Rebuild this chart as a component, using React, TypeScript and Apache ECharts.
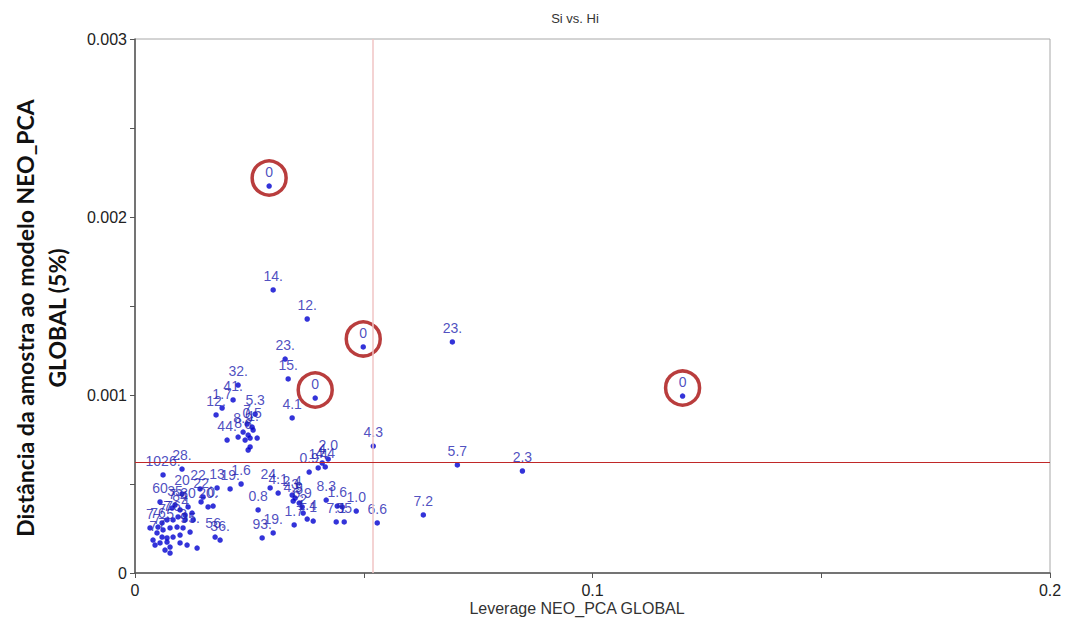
import React, { useEffect, useRef } from "react";
import * as echarts from "echarts";

// Leverage (x), sample distance (y) and point labels
const leverage = [
  0.02932, 0.0302, 0.03764, 0.04989, 0.06937, 0.03282, 0.03348, 0.03939, 0.11969, 0.07046,
  0.08468, 0.06302, 0.05208, 0.03435, 0.02254, 0.02144, 0.01904, 0.01772, 0.02626, 0.02013,
  0.02254, 0.02451, 0.0256, 0.02363, 0.02473, 0.02582, 0.02516, 0.02516, 0.02473, 0.0267,
  0.02407, 0.04223, 0.04158, 0.04004, 0.04092, 0.03807, 0.01028, 0.00613, 0.00547, 0.01028,
  0.01422, 0.01488, 0.00875, 0.0116, 0.01597, 0.01707, 0.01794, 0.02079, 0.02319, 0.02954,
  0.03129, 0.03435, 0.03501, 0.03457, 0.03589, 0.03654, 0.03676, 0.04179, 0.0442, 0.0453,
  0.04836, 0.04398, 0.04573, 0.05295, 0.03764, 0.03895, 0.03479, 0.02691, 0.02779, 0.0302,
  0.01751, 0.0186, 0.01444,
  0.0081, 0.00985, 0.01094, 0.00941, 0.00832, 0.007, 0.00591, 0.00503, 0.00613, 0.00766,
  0.00919, 0.0105, 0.01204, 0.00985, 0.00832, 0.007, 0.00591, 0.00481, 0.00438, 0.00547,
  0.007, 0.00766, 0.00656, 0.00766, 0.00985, 0.01138, 0.01357, 0.01094, 0.01269, 0.01247,
  0.00328, 0.00394,
];
const distance = [
  0.002174, 0.00159, 0.001427, 0.00127, 0.001298, 0.001202, 0.00109, 0.000983, 0.000994, 0.000607,
  0.000573, 0.000326, 0.000713, 0.000871, 0.001056, 0.000972, 0.000927, 0.000888, 0.000893, 0.000747,
  0.000764, 0.000837, 0.00082, 0.000792, 0.000775, 0.000803, 0.000758, 0.000708, 0.000691, 0.000758,
  0.000747, 0.00064, 0.000596, 0.00059, 0.000618, 0.000567, 0.000584, 0.000551, 0.000399, 0.000444,
  0.000472, 0.000427, 0.000382, 0.000371, 0.000371, 0.000376, 0.000478, 0.000472, 0.0005, 0.000478,
  0.000449, 0.000438, 0.000421, 0.000404, 0.000393, 0.000371, 0.000337, 0.00041, 0.000376, 0.000371,
  0.000348, 0.000287, 0.000287, 0.000281, 0.000303, 0.000292, 0.00027, 0.000354, 0.000197, 0.000225,
  0.000202, 0.000185, 0.000399,
  0.000365, 0.000354, 0.000326, 0.000315, 0.000298, 0.000298, 0.000281, 0.000258, 0.000242, 0.000253,
  0.000258, 0.000253, 0.00023, 0.000213, 0.000202, 0.000197, 0.000202, 0.000225, 0.000157, 0.000169,
  0.000174, 0.000146, 0.000129, 0.000112, 0.000169, 0.000157, 0.00014, 0.000298, 0.000298, 0.000337,
  0.000253, 0.000185,
];
const sampleLabels = [
  "0", "14.", "12.", "0", "23.", "23.", "15.", "0", "0", "5.7",
  "2.3", "7.2", "4.3", "4.1", "32.", "41.", "1.7", "12.", "5.3", "44.",
  "8", "7", "0.5", "8.9", "", "1.", "6.", "", "", "",
  "", "2.0", "4.4", "1.4", "4", "0.9", "28.", "1026:", "60", "20",
  "22.", "22.", "35", "30", "20.", "0.", "13", "19.", "1.6", "24.",
  "4.1", "2.4", "3", "4.9", "5", "6.9", "2", "8.3", "1.6", "",
  "1.0", "7.1", "55", "6.6", "1.4", "1", "1.7", "0.8", "93.", "19.",
  "56.", "36.", "",
  "7", "84", "4", "", "76", "7", "7", "76", "", "5",
  "", "3", "95.", "", "", "", "7", "7", "", "",
  "", "", "", "", "", "", "", "", "", "",
  "7", "7",
];
const leverageLimit = 0.0519;
const distanceLimit = 0.000624;
const xTicks = { min: 0, max: 0.2, interval: 0.1 };
const yTicks = { min: 0, max: 0.003, interval: 0.001 };

const FONT = "'Liberation Sans', Arial, sans-serif";

export default function App() {
  const ref = useRef<HTMLDivElement>(null);
  useEffect(() => {
    if (!ref.current) return;
    const chart = echarts.init(ref.current, undefined, { renderer: "svg" });
    const points = leverage.map((x, i) => [x, distance[i], sampleLabels[i]]);
    const circled = points.filter((p) => p[2] === "0");
    chart.setOption({
      animation: false,
      backgroundColor: "#ffffff",
      grid: {
        left: 135,
        right: 16,
        top: 39,
        bottom: 49,
        show: true,
        borderColor: "#a8a8a8",
        borderWidth: 1,
      },
      xAxis: {
        type: "value",
        ...xTicks,
        axisLine: { show: true, onZero: false, lineStyle: { color: "#555", width: 1.5 } },
        axisTick: { show: true, length: 5, lineStyle: { color: "#555" } },
        minorTick: { show: true, splitNumber: 2, length: 5, lineStyle: { color: "#555" } },
        splitLine: { show: false },
        axisLabel: {
          margin: 9,
          fontSize: 16,
          fontFamily: FONT,
          color: "#222",
          formatter: (v: number) => (v === 0 ? "0" : String(+v.toFixed(1))),
        },
      },
      yAxis: {
        type: "value",
        ...yTicks,
        axisLine: { show: true, onZero: false, lineStyle: { color: "#555", width: 1.5 } },
        axisTick: { show: true, length: 5, lineStyle: { color: "#555" } },
        minorTick: { show: true, splitNumber: 2, length: 5, lineStyle: { color: "#555" } },
        splitLine: { show: false },
        axisLabel: {
          margin: 8,
          fontSize: 16,
          fontFamily: FONT,
          color: "#222",
          formatter: (v: number) => (v === 0 ? "0" : v.toFixed(3)),
        },
      },
      graphic: [
        {
          type: "text",
          x: 575,
          y: 18,
          style: {
            text: "Si vs. Hi",
            fontSize: 13,
            fontFamily: FONT,
            fill: "#333",
            textAlign: "center",
            textVerticalAlign: "middle",
          },
        },
        {
          type: "text",
          x: 577,
          y: 608,
          style: {
            text: "Leverage NEO_PCA GLOBAL",
            fontSize: 16,
            fontFamily: FONT,
            fill: "#333",
            textAlign: "center",
            textVerticalAlign: "middle",
          },
        },
        {
          type: "text",
          x: 41,
          y: 318,
          rotation: Math.PI / 2,
          style: {
            text: "Distância da amostra ao modelo NEO_PCA\nGLOBAL (5%)",
            fontSize: 23,
            fontWeight: "bold",
            fontFamily: "Lato, 'Open Sans', sans-serif",
            fill: "#111",
            lineHeight: 32,
            textAlign: "center",
            textVerticalAlign: "middle",
          },
        },
      ],
      series: [
        {
          type: "scatter",
          data: points,
          symbolSize: 5.5,
          itemStyle: { color: "#0000d0" },
          label: {
            show: true,
            position: "top",
            distance: 4,
            fontSize: 14,
            fontFamily: FONT,
            color: "#2222b0",
            formatter: (p: any) => p.value[2],
          },
          markLine: {
            silent: true,
            precision: 6,
            symbol: ["none", "none"],
            label: { show: false },
            data: [
              { xAxis: leverageLimit, lineStyle: { color: "#f0c4c4", width: 1.5, type: "solid" } },
              { yAxis: distanceLimit, lineStyle: { color: "#c02828", width: 1, type: "solid" } },
            ],
          },
          z: 2,
        },
        {
          type: "scatter",
          data: circled,
          symbol: "circle",
          symbolSize: 34,
          symbolOffset: [0, -8],
          itemStyle: { color: "rgba(0,0,0,0)", borderColor: "#a80c0c", borderWidth: 3.5 },
          label: { show: false },
          silent: true,
          z: 3,
        },
      ],
    });
    return () => chart.dispose();
  }, []);
  return (
    <div
      ref={ref}
      style={{ position: "fixed", left: 0, top: 0, width: 1066, height: 622 }}
    />
  );
}
